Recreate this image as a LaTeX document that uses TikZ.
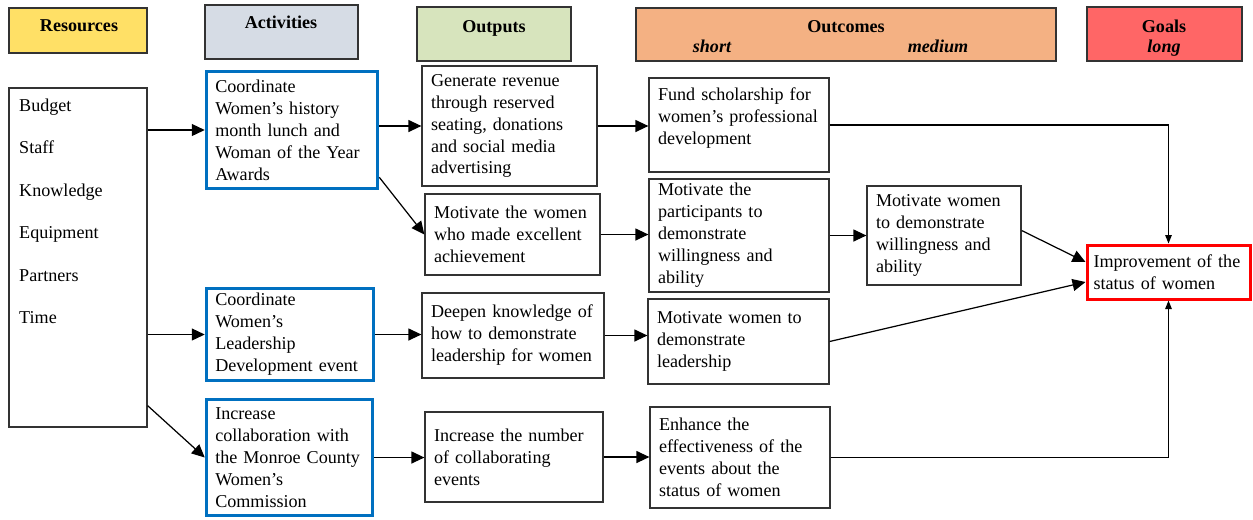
\documentclass[tikz,border=0pt]{standalone}
\usepackage{fontspec}
\setmainfont{Liberation Serif}
\usepackage{xcolor}
\usepackage{tikz}
\usetikzlibrary{arrows.meta,positioning}

\definecolor{resyellow}{HTML}{FFE066}
\definecolor{actgray}{HTML}{D6DCE5}
\definecolor{outgreen}{HTML}{D7E4BD}
\definecolor{ocorange}{HTML}{F4B183}
\definecolor{goalred}{HTML}{FF6666}
\definecolor{actblue}{HTML}{0070C0}

\begin{document}
\begin{tikzpicture}[
  font=\fontsize{10.3}{12.5}\selectfont,
  head/.style={draw=black!80, line width=0.8pt, inner sep=0pt},
  htext/.style={font=\fontsize{10.3}{12.5}\selectfont\bfseries, anchor=base, inner sep=0pt},
  box/.style={draw=black!80, line width=0.7pt, align=left, inner xsep=0.18cm, inner ysep=0pt},
  act/.style={box, draw=actblue, line width=1.7pt},
  goal/.style={box, draw=red, line width=1.7pt, inner xsep=0.13cm},
  arr/.style={-{Triangle[length=2.6mm,width=2.4mm]}, line width=0.7pt},
  arrs/.style={-{Triangle[length=1.7mm,width=1.3mm]}, line width=0.7pt}
]
\useasboundingbox (0,0) rectangle (25.06,-10.38);

% header row
\node[head, fill=resyellow, minimum width=2.76cm, minimum height=0.90cm] (hres) at (1.56,-0.61) {};
\node[htext] (tres) at (1.58,-0.62) {Resources};
\node[head, fill=actgray, minimum width=3.06cm, minimum height=1.08cm] (hact) at (5.63,-0.64) {};
\node[htext] (tact) at (5.62,-0.56) {Activities};
\node[head, fill=outgreen, minimum width=3.08cm, minimum height=1.08cm] (hout) at (9.88,-0.68) {};
\node[htext] (tout) at (9.88,-0.64) {Outputs};
\node[head, fill=ocorange, minimum width=8.40cm, minimum height=1.06cm] (hoc) at (16.92,-0.69) {};
\node[htext] (toc) at (16.92,-0.64) {Outcomes};
\node[htext, font=\fontsize{10.3}{12.5}\selectfont\bfseries\itshape] (tshort) at (14.24,-1.04) {short};
\node[htext, font=\fontsize{10.3}{12.5}\selectfont\bfseries\itshape] (tmed) at (18.76,-1.04) {medium};
\node[head, fill=goalred, minimum width=3.10cm, minimum height=1.08cm] (hgoal) at (23.29,-0.68) {};
\node[htext] (tgoal) at (23.28,-0.64) {Goals};
\node[htext, font=\fontsize{10.3}{12.5}\selectfont\bfseries\itshape] (tlong) at (23.28,-1.04) {long};

% resources
\node[box, minimum width=2.76cm, minimum height=6.78cm] (res) at (1.56,-5.15) {};
\node[anchor=north west, align=left, inner sep=0pt, font=\fontsize{10.3}{24.2}\selectfont]
  (reslist) at ([xshift=0.21cm,yshift=-0.22cm]res.north west)
  {Budget\\Staff\\Knowledge\\Equipment\\Partners\\Time};

% activities
\node[act, minimum width=3.43cm, minimum height=2.35cm, text width=3.07cm] (a1) at (5.84,-2.60)
  {Coordinate\\Women's history\\month lunch and\\Woman of the Year\\Awards};
\node[act, minimum width=3.35cm, minimum height=1.85cm, text width=2.99cm] (a2) at (5.80,-6.69)
  {Coordinate\\Women's\\Leadership\\Development event};
\node[act, minimum width=3.33cm, minimum height=2.33cm, text width=2.97cm] (a3) at (5.79,-9.15)
  {Increase\\collaboration with\\the Monroe County\\Women's\\Commission};

% outputs
\node[box, minimum width=3.50cm, minimum height=2.40cm, text width=3.14cm] (o1) at (10.19,-2.52)
  {Generate revenue\\through reserved\\seating, donations\\and social media\\advertising};
\node[box, minimum width=3.50cm, minimum height=1.62cm, text width=3.14cm] (o2) at (10.25,-4.69)
  {Motivate the women\\who made excellent\\achievement};
\node[box, minimum width=3.64cm, minimum height=1.70cm, text width=3.28cm] (o3) at (10.26,-6.71)
  {Deepen knowledge of\\how to demonstrate\\leadership for women};
\node[box, minimum width=3.56cm, minimum height=1.80cm, text width=3.20cm] (o4) at (10.28,-9.14)
  {Increase the number\\of collaborating\\events};

% short-term outcomes
\node[box, minimum width=3.60cm, minimum height=1.88cm, text width=3.24cm, text depth=1.22cm] (s1) at (14.78,-2.50)
  {Fund scholarship for\\women's professional\\development};
\node[box, minimum width=3.60cm, minimum height=2.26cm, text width=3.24cm] (s2) at (14.78,-4.71)
  {Motivate the\\participants to\\demonstrate\\willingness and\\ability};
\node[box, minimum width=3.62cm, minimum height=1.70cm, text width=3.26cm] (s3) at (14.77,-6.83)
  {Motivate women to\\demonstrate\\leadership};
\node[box, minimum width=3.60cm, minimum height=2.02cm, text width=3.24cm] (s4) at (14.80,-9.15)
  {Enhance the\\effectiveness of the\\events about the\\status of women};

% medium-term outcome and goal
\node[box, minimum width=3.08cm, minimum height=1.98cm, text width=2.72cm] (m1) at (18.88,-4.71)
  {Motivate women\\to demonstrate\\willingness and\\ability};
\node[goal, minimum width=3.26cm, minimum height=1.08cm, text width=3.0cm] (g) at (23.37,-5.44)
  {Improvement of the\\status of women};

% connectors
\draw[arr] (res.east |- a1) -- (a1.west);
\draw[arr] (res.east |- a2) -- (a2.west);
\draw[arr] ([yshift=0.44cm]res.south east) -- (a3.west);
\draw[arr] (a1.east |- o1) -- (o1.west);
\draw[arr] ([yshift=0.26cm]a1.south east) -- (o2.west);
\draw[arr] (a2.east) -- (a2.east -| o3.west);
\draw[arr] (a3.east) -- (a3.east -| o4.west);
\draw[arr] (o1.east) -- (o1.east -| s1.west);
\draw[arr] (o2.east) -- (o2.east -| s2.west);
\draw[arr] (o3.east) -- (o3.east -| s3.west);
\draw[arr] (o4.east) -- (o4.east -| s4.west);
\draw[arr] (s2.east) -- (s2.east -| m1.west);
\draw[arrs] (s1.east) -| (g.north);
\draw[arrs] (s4.east) -| (g.south);
\draw[arr] ([yshift=0.1cm]m1.east) -- ([yshift=0.2cm]g.west);
\draw[arr] (s3.east) -- ([yshift=-0.2cm]g.west);
\end{tikzpicture}
\end{document}
